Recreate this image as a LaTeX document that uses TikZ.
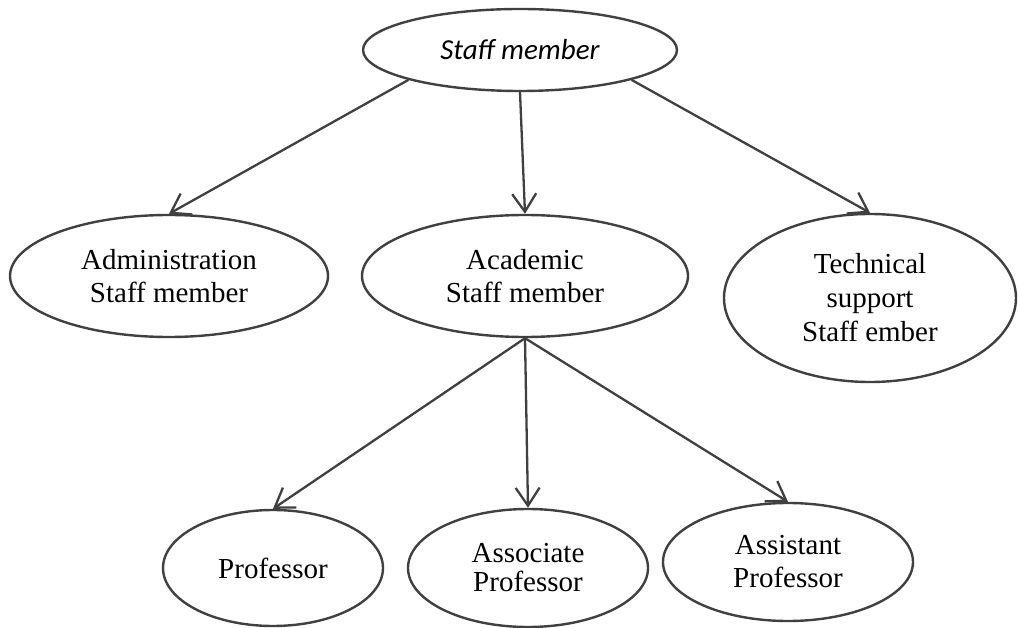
\documentclass[tikz,border=0pt]{standalone}
\usepackage{fontspec}
\setmainfont{Liberation Serif}
\newfontfamily\calibrilike{Carlito}
\usetikzlibrary{shapes.geometric,arrows.meta}
\definecolor{edgegray}{HTML}{404040}
\begin{document}
\begin{tikzpicture}[x=1pt,y=-1pt,
  oval/.style={ellipse, draw=edgegray, line width=2.4pt, inner sep=0pt,
    align=center, font=\fontsize{29}{33}\selectfont},
  link/.style={draw=edgegray, line width=2.3pt,
    -{Straight Barb[length=18pt,width=24pt,line width=2.3pt]}}]
\useasboundingbox (0,0) rectangle (1018,628);

% root
\node[oval, minimum width=314pt, minimum height=82pt,
  font=\calibrilike\itshape\fontsize{29}{33}\selectfont] (top) at (520,50) {Staff member};

% second level
\node[oval, minimum width=318pt, minimum height=122pt] (admin) at (169,276)
  {Administration\\Staff member};
\node[oval, minimum width=326pt, minimum height=122pt] (acad) at (525,276)
  {Academic\\Staff member};
\node[oval, minimum width=292pt, minimum height=168pt,
  font=\fontsize{29}{34}\selectfont] (tech) at (870,298)
  {Technical\\support\\Staff ember};

% academic ranks
\node[oval, minimum width=220pt, minimum height=116pt] (prof) at (273,568)
  {Professor};
\node[oval, minimum width=240pt, minimum height=118pt,
  font=\fontsize{29}{29}\selectfont] (assoc) at (528,568)
  {Associate\\Professor};
\node[oval, minimum width=250pt, minimum height=118pt] (assist) at (788,562)
  {Assistant\\Professor};

% connectors
\draw[link] (top.195) -- (admin.north);
\draw[link] (top.south) -- (acad.north);
\draw[link] (top.345) -- (tech.north);
\draw[link] (acad.south) -- (prof.north);
\draw[link] (acad.south) -- (assoc.north);
\draw[link] (acad.south) -- (assist.north);
\end{tikzpicture}
\end{document}
